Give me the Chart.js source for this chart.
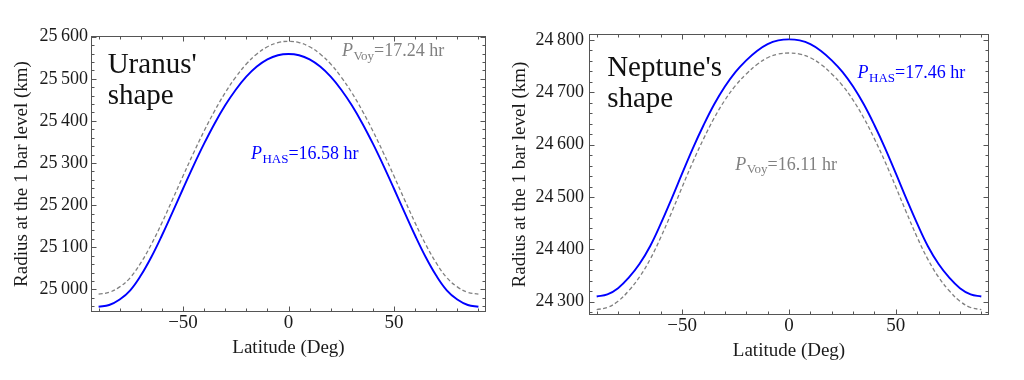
<!DOCTYPE html>
<html>
<head>
<meta charset="utf-8">
<script src="https://cdn.jsdelivr.net/npm/chart.js@4.4.1/dist/chart.umd.min.js"></script>
<style>
html,body{margin:0;padding:0;background:#fff;}
#wrap{position:relative;width:1024px;height:380px;overflow:hidden;background:#fff;}
canvas{position:absolute;top:0;}
</style>
</head>
<body>
<div id="wrap">
  <canvas id="uranus" width="500" height="380" style="left:0"></canvas>
  <canvas id="neptune" width="524" height="380" style="left:500px"></canvas>
</div>
<script>
// ---------------- data ----------------
const latitudes = [-90,-85,-80,-75,-70,-65,-60,-55,-50,-45,-40,-35,-30,-25,-20,-15,-10,-5,0,
                   5,10,15,20,25,30,35,40,45,50,55,60,65,70,75,80,85,90];

const uranusHAS = [24959,24963,24976,24998,25033,25077,25128,25183,25239,25294,25346,25394,25437,25474,25505,25529,25546,25556,25559,
                   25556,25546,25529,25505,25474,25437,25394,25346,25294,25239,25183,25128,25077,25033,24998,24976,24963,24959];
const uranusVoy = [24989,24993,25006,25028,25063,25107,25158,25213,25269,25324,25376,25424,25467,25504,25535,25559,25576,25586,25589,
                   25586,25576,25559,25535,25504,25467,25424,25376,25324,25269,25213,25158,25107,25063,25028,25006,24993,24989];

const neptuneHAS = [24310,24314,24326,24346,24372,24406,24449,24496,24545,24593,24637,24677,24711,24739,24761,24779,24792,24799,24801,
                    24799,24792,24779,24761,24739,24711,24677,24637,24593,24545,24496,24449,24406,24372,24346,24326,24314,24310];
const neptuneVoy = [24285,24289,24301,24321,24347,24381,24423,24470,24519,24567,24611,24651,24685,24713,24735,24753,24766,24773,24775,
                    24773,24766,24753,24735,24713,24685,24651,24611,24567,24519,24470,24423,24381,24347,24321,24301,24289,24285];

const latitudeTicks = [-50, 0, 50];
const uranusRadiusTicks = [25000, 25100, 25200, 25300, 25400, 25500, 25600];
const neptuneRadiusTicks = [24300, 24400, 24500, 24600, 24700, 24800];

const uranusTitle = ["Uranus'", "shape"];
const neptuneTitle = ["Neptune's", "shape"];
const uranusPeriods = [
  {sub: 'Voy', text: '=17.24 hr', series: 'voy'},
  {sub: 'HAS', text: '=16.58 hr', series: 'has'}
];
const neptunePeriods = [
  {sub: 'HAS', text: '=17.46 hr', series: 'has'},
  {sub: 'Voy', text: '=16.11 hr', series: 'voy'}
];

// ---------------- styling ----------------
const FONT = "'Liberation Serif', 'Times New Roman', serif";
const BLUE = 'rgb(0,0,255)';
const GRAY = 'rgb(128,128,128)';
const INK = '#1a1a1a';
const FRAME = '#555';
Chart.defaults.font.family = FONT;

function fmtLat(v) { return v < 0 ? '\u2212' + Math.abs(v) : String(v); }
function fmtRadius(v) {
  const s = String(Math.round(v));
  return s.slice(0, s.length - 3) + '\u2009' + s.slice(s.length - 3);
}

const framePlugin = {
  id: 'frame',
  afterDraw(chart, args, o) {
    const {ctx, chartArea: a, scales: {x, y}} = chart;
    ctx.save();
    ctx.strokeStyle = FRAME;
    ctx.lineWidth = 1;
    const L = Math.round(a.left) + 0.5, R = Math.round(a.right) - 0.5;
    const T = Math.round(a.top) + 0.5, B = Math.round(a.bottom) - 0.5;
    ctx.strokeRect(L, T, R - L, B - T);
    ctx.beginPath();
    for (let v = -90; v <= 90; v += 10) {
      const major = latitudeTicks.includes(v);
      const len = major ? 5 : 3;
      const px = Math.round(x.getPixelForValue(v)) + 0.5;
      ctx.moveTo(px, B); ctx.lineTo(px, B - len);
      ctx.moveTo(px, T); ctx.lineTo(px, T + len);
    }
    const ymin = Math.ceil(y.min / 20) * 20;
    for (let v = ymin; v <= y.max; v += 20) {
      const major = v % 100 === 0;
      const len = major ? 5 : 3;
      const py = Math.round(y.getPixelForValue(v)) + 0.5;
      ctx.moveTo(L, py); ctx.lineTo(L + len, py);
      ctx.moveTo(R, py); ctx.lineTo(R - len, py);
    }
    ctx.stroke();

    ctx.textAlign = 'left';
    ctx.textBaseline = 'alphabetic';
    ctx.fillStyle = '#111';
    ctx.font = '29px ' + FONT;
    const tx = x.getPixelForValue(o.titleAt.lat);
    const ty = y.getPixelForValue(o.titleAt.r);
    o.title.forEach((line, i) => ctx.fillText(line, tx, ty + i * o.titleLine));

    o.periods.forEach((p, i) => {
      const at = o.periodAt[i];
      const px = x.getPixelForValue(at.lat);
      const py = y.getPixelForValue(at.r);
      ctx.fillStyle = p.series === 'has' ? BLUE : GRAY;
      ctx.font = 'italic 18px ' + FONT;
      ctx.fillText('P', px, py);
      let w = ctx.measureText('P').width;
      ctx.font = '13px ' + FONT;
      ctx.fillText(p.sub, px + w + 0.5, py + 3.5);
      w += ctx.measureText(p.sub).width + 0.5;
      ctx.font = '18px ' + FONT;
      ctx.fillText(p.text, px + w, py);
    });
    ctx.restore();
  }
};

function makeChart(id, cfg) {
  const pts = arr => latitudes.map((lat, i) => ({x: lat, y: arr[i]}));
  return new Chart(document.getElementById(id), {
    type: 'line',
    data: {
      datasets: [
        {data: pts(cfg.voy), borderColor: GRAY, borderWidth: 1.3, borderDash: [4, 2.5],
         pointRadius: 0, fill: false, tension: 0.4},
        {data: pts(cfg.has), borderColor: BLUE, borderWidth: 1.9,
         pointRadius: 0, fill: false, tension: 0.4}
      ]
    },
    options: {
      responsive: false,
      animation: false,
      devicePixelRatio: 1,
      events: [],
      layout: {padding: {top: cfg.padTop, right: cfg.padRight, left: 0, bottom: 0}},
      plugins: {
        legend: {display: false},
        tooltip: {enabled: false},
        frame: cfg.frame
      },
      scales: {
        x: {
          type: 'linear', min: -93.6, max: 93.6,
          afterBuildTicks: s => { s.ticks = latitudeTicks.map(v => ({value: v})); },
          afterFit: s => { s.height = cfg.xAxisHeight; },
          grid: {display: false, drawTicks: false},
          border: {display: false},
          ticks: {padding: 0, color: INK, font: {size: 19}, maxRotation: 0, autoSkip: false,
                  callback: v => fmtLat(v)},
          title: {display: true, text: 'Latitude (Deg)', color: INK, font: {size: 19},
                  padding: {top: 0, bottom: cfg.xTitlePad}}
        },
        y: {
          type: 'linear', min: cfg.ymin, max: cfg.ymax,
          afterBuildTicks: s => { s.ticks = cfg.yTicks.map(v => ({value: v})); },
          afterFit: s => { s.width = cfg.yAxisWidth; },
          grid: {display: false, drawTicks: false},
          border: {display: false},
          ticks: {padding: cfg.yTickPad, color: INK, font: {size: 18}, autoSkip: false,
                  callback: v => fmtRadius(v)},
          title: {display: true, text: 'Radius at the 1 bar level (km)', color: INK, font: {size: 19},
                  padding: {top: cfg.yTitlePad, bottom: 0}}
        }
      }
    },
    plugins: [framePlugin]
  });
}

makeChart('uranus', {
  has: uranusHAS, voy: uranusVoy, yTicks: uranusRadiusTicks,
  ymin: 24946.4, ymax: 25601.6,
  padTop: 36, padRight: 14, xAxisHeight: 68, yAxisWidth: 91,
  yTickPad: 3, xTitlePad: 21, yTitlePad: 10.5,
  frame: {
    title: uranusTitle, titleAt: {lat: -85.7, r: 25513}, titleLine: 31,
    periods: uranusPeriods,
    periodAt: [{lat: 25.3, r: 25554}, {lat: -17.8, r: 25309}]
  }
});

makeChart('neptune', {
  has: neptuneHAS, voy: neptuneVoy, yTicks: neptuneRadiusTicks,
  ymin: 24274.7, ymax: 24811.3,
  padTop: 34, padRight: 35, xAxisHeight: 65, yAxisWidth: 89,
  yTickPad: 5, xTitlePad: 17.5, yTitlePad: 8.5,
  frame: {
    title: neptuneTitle, titleAt: {lat: -85.1, r: 24731}, titleLine: 30.7,
    periods: neptunePeriods,
    periodAt: [{lat: 32.1, r: 24727}, {lat: -25.1, r: 24551.8}]
  }
});
</script>
</body>
</html>
